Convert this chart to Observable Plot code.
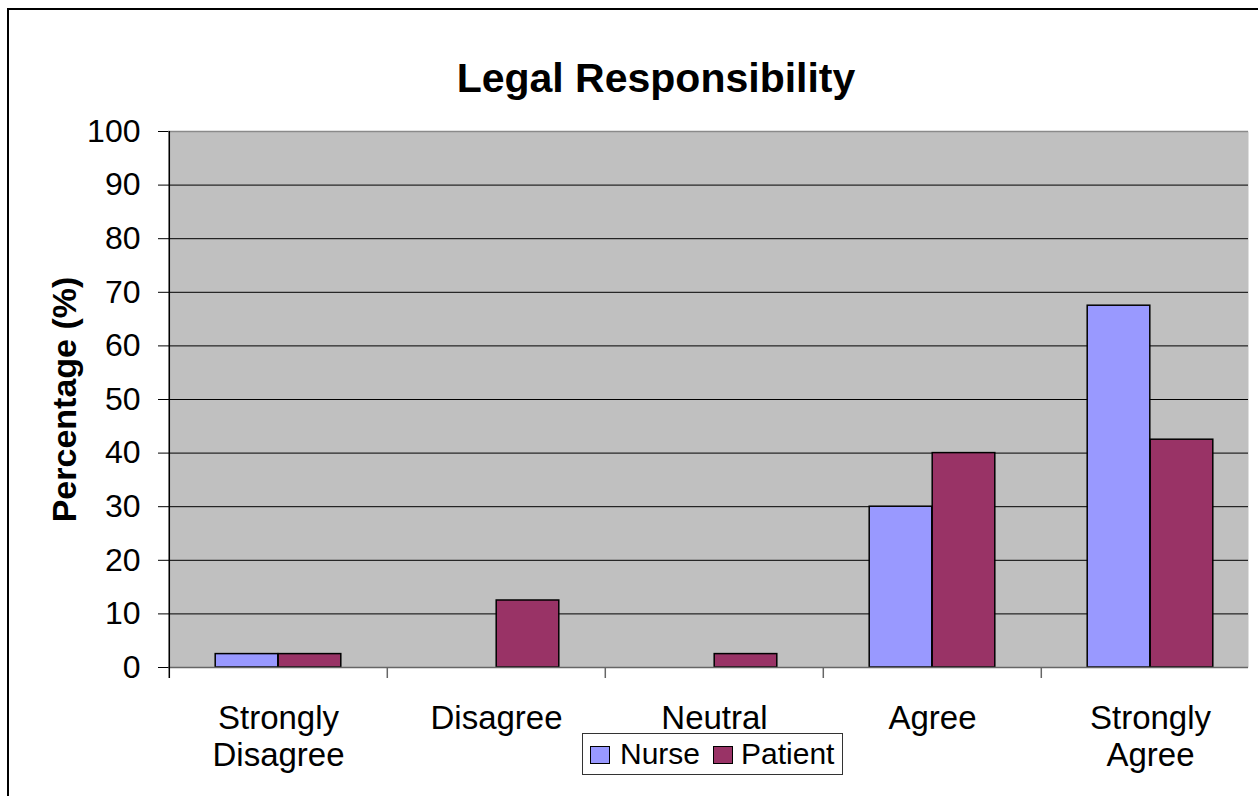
<!DOCTYPE html>
<html>
<head>
<meta charset="utf-8">
<script src="https://cdn.jsdelivr.net/npm/d3@7"></script>
<script src="https://cdn.jsdelivr.net/npm/@observablehq/plot@0.6"></script>
<style>
  html, body { margin: 0; padding: 0; background: #fff; overflow: hidden; }
  body { width: 1258px; height: 796px; position: relative; font-family: "Liberation Sans", Arial, sans-serif; }
  #outer { position: absolute; left: 7px; top: 8px; width: 2000px; height: 2000px; border-left: 2px solid #000; border-top: 2px solid #000; box-sizing: border-box; }
  #chart { position: absolute; left: 0; top: 0; }
  #title { position: absolute; left: 0; width: 1312px; top: 58px; text-align: center; font-weight: bold; font-size: 41px; line-height: 41px; color: #000; }
  #legend { position: absolute; left: 582px; top: 733px; width: 261px; height: 42px; box-sizing: border-box; border: 1px solid #333; background: #fff; font-size: 30px; }
  .sw { position: absolute; top: 12px; width: 20px; height: 18px; box-sizing: border-box; border: 1.5px solid #000; }
  .lt { position: absolute; top: 3px; line-height: 34px; color: #000; }
</style>
</head>
<body>
<div id="outer"></div>
<div id="chart"></div>
<div id="title"></div>
<div id="legend"></div>
<script>
const titleText = "Legal Responsibility";
const yLabel = "Percentage (%)";
const categories = ["Strongly\nDisagree", "Disagree", "Neutral", "Agree", "Strongly\nAgree"];
const series = ["Nurse", "Patient"];
const seriesColors = ["#9999ff", "#993366"];
const nurse = [2.5, 0, 0, 30, 67.5];
const patient = [2.5, 12.5, 2.5, 40, 42.5];
const yTicks = [0, 10, 20, 30, 40, 50, 60, 70, 80, 90, 100];

const rows = categories.map((c, i) => ({category: c, Nurse: nurse[i], Patient: patient[i]}));
const band = (1260 - 168) / categories.length;
const barW = 63;
const inset = (band - barW) / 2;

const chart = Plot.plot({
  width: 1248,
  height: 796,
  marginLeft: 168,
  marginRight: 0,
  marginTop: 131,
  marginBottom: 129,
  style: {fontFamily: "'Liberation Sans', Arial, sans-serif", background: "transparent", color: "#000", overflow: "visible"},
  x: {type: "band", domain: categories, range: [168, 1260], padding: 0},
  y: {domain: [0, 100]},
  marks: [
    Plot.frame({fill: "#c0c0c0", stroke: null}),
    Plot.ruleY(yTicks.filter(d => d > 0 && d < 100), {stroke: "#000", strokeWidth: 1}),
    Plot.ruleY([100], {stroke: "#8a8a8a", strokeWidth: 1.5}),
    ...series.map((s, k) => Plot.barY(rows.filter(r => r[s] > 0), {
      x: "category", y: s, fill: seriesColors[k], stroke: "#000", strokeWidth: 1.5,
      insetLeft: inset, insetRight: inset, dx: (k === 0 ? -1 : 1) * barW / 2
    })),
    Plot.ruleY([0], {stroke: "#666", strokeWidth: 1.5}),
    Plot.ruleX(categories.slice(1), {x: d => d, y1: 0, y2: 0, dx: -band / 2, insetBottom: -11, stroke: "#666", strokeWidth: 1.5}),
    Plot.ruleX([categories[0]], {x: d => d, y1: 100, y2: 0, dx: -band / 2, insetBottom: -11, stroke: "#000", strokeWidth: 1.5}),
    Plot.axisY({ticks: yTicks, tickSize: 10, tickPadding: 18, fontSize: 32, label: null, stroke: "#000"}),
    Plot.axisX({tickSize: 0, tickPadding: 35, fontSize: 33, lineHeight: 1.12, label: null}),
    Plot.text([yLabel], {frameAnchor: "left", dx: -103, rotate: -90, textAnchor: "middle", lineAnchor: "middle", text: d => d, fontSize: 34, fontWeight: "bold", fill: "#000"})
  ]
});
document.getElementById("chart").appendChild(chart);
document.getElementById("title").textContent = titleText;

const legend = document.getElementById("legend");
const swX = [7, 130];
const txX = [37, 158];
series.forEach((s, k) => {
  const sw = document.createElement("div");
  sw.className = "sw";
  sw.style.left = swX[k] + "px";
  sw.style.background = seriesColors[k];
  legend.appendChild(sw);
  const t = document.createElement("div");
  t.className = "lt";
  t.style.left = txX[k] + "px";
  t.textContent = s;
  legend.appendChild(t);
});
</script>
</body>
</html>
